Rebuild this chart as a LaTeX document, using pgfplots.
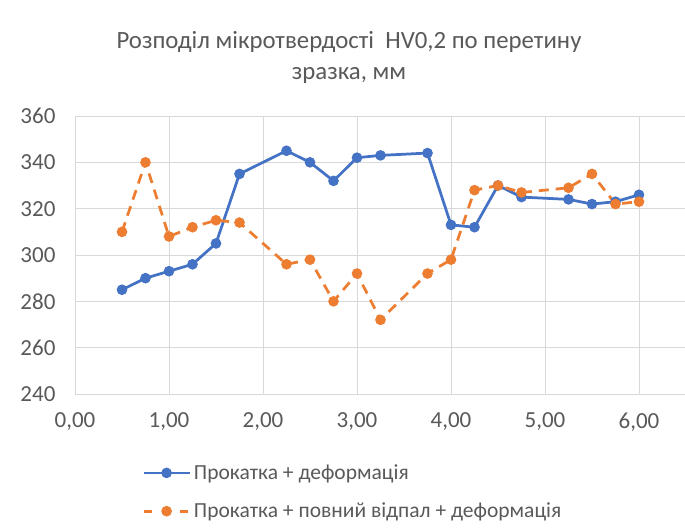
\documentclass[border=0pt]{standalone}
\usepackage{fontspec}
\setmainfont{Carlito}
\usepackage{pgfplots}
\pgfplotsset{compat=1.18}
\definecolor{cblue}{HTML}{4472C4}
\definecolor{corange}{HTML}{ED7D31}
\definecolor{ctext}{HTML}{595959}
\definecolor{cgrid}{HTML}{D9D9D9}
\begin{document}
\begin{tikzpicture}[x=1pt,y=1pt]
\path[use as bounding box] (0,0) rectangle (685,531);
\node[font=\fontsize{24.8}{31}\selectfont, text=ctext, align=center] at (349,473.5)
  {Розподіл мікротвердості\ \ HV0,2 по перетину\\зразка, мм};
\begin{axis}[
  at={(75pt,137pt)}, anchor=south west,
  scale only axis, width=611pt, height=278pt,
  xmin=0, xmax=6.5, ymin=240, ymax=360,
  xtick={0,1,...,6}, ytick={240,260,...,360},
  grid=major, major grid style={draw=cgrid, line width=1pt},
  axis line style={draw=cgrid, line width=1pt},
  tick style={draw=none},
  /pgf/number format/assume math mode=true,
  ticklabel style={font=\fontsize{23}{27}\selectfont, text=ctext},
  xticklabel style={yshift=-15pt, /pgf/number format/.cd, fixed, fixed zerofill, precision=2, use comma},
  yticklabel style={xshift=-16pt, /pgf/number format/.cd, fixed, precision=0},
  legend style={at={(0.1097,-0.243)}, anchor=north west, draw=none, fill=none,
    font=\fontsize{21.5}{25}\selectfont, text=ctext, inner sep=0pt, row sep=16pt,
    nodes={inner sep=3pt}},
  legend cell align=left,
  legend image code/.code={
    \draw[mark repeat=2, mark phase=2, #1] plot coordinates {(0pt,0pt) (23pt,0pt) (46pt,0pt)};
  },
]
\addplot[cblue, line width=2.75pt, mark=*, mark size=4.8pt, mark options={solid, fill=cblue, line width=1pt}]
coordinates {
(0.5,285) (0.75,290) (1,293) (1.25,296) (1.5,305) (1.75,335) (2.25,345) (2.5,340)
(2.75,332) (3,342) (3.25,343) (3.75,344) (4,313) (4.25,312) (4.5,330) (4.75,325)
(5.25,324) (5.5,322) (5.75,323) (6,326)
};
\addlegendentry{Прокатка + деформація}
\addplot[corange, line width=2.75pt, dash pattern=on 10pt off 7pt, mark=*, mark size=4.8pt, mark options={solid, fill=corange, line width=1pt},
  legend image post style={dash pattern=on 8pt off 10pt}]
coordinates {
(0.5,310) (0.75,340) (1,308) (1.25,312) (1.5,315) (1.75,314) (2.25,296) (2.5,298)
(2.75,280) (3,292) (3.25,272) (3.75,292) (4,298) (4.25,328) (4.5,330) (4.75,327)
(5.25,329) (5.5,335) (5.75,322) (6,323)
};
\addlegendentry{Прокатка + повний відпал + деформація}
\end{axis}
\end{tikzpicture}
\end{document}
